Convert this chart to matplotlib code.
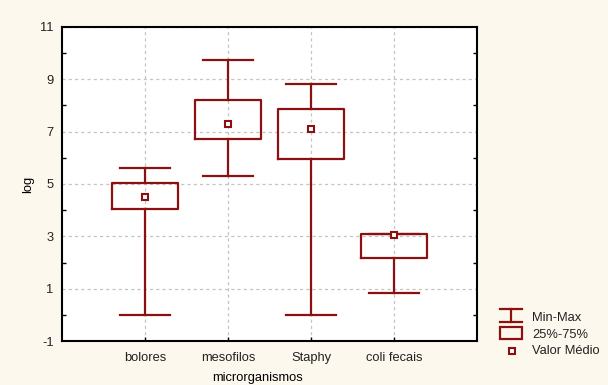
import matplotlib
matplotlib.use("Agg")
import matplotlib.pyplot as plt
from matplotlib.patches import Rectangle

plt.rcParams["font.family"] = ["Liberation Sans", "DejaVu Sans"]
plt.rcParams["font.size"] = 9.3
plt.rcParams["axes.unicode_minus"] = False

# summary values per group (log scale)
categorias = ["bolores", "mesofilos", "Staphy", "coli fecais"]
minimos = [0.0, 5.29, 0.0, 0.85]
q25 = [4.04, 6.72, 5.95, 2.16]
medias = [4.52, 7.30, 7.09, 3.05]
q75 = [5.05, 8.21, 7.85, 3.09]
maximos = [5.63, 9.74, 8.81, 3.08]

cor = "#8b1010"
fundo = "#fdf8ee"

stats = []
for nome, lo, a, m, b, hi in zip(categorias, minimos, q25, medias, q75, maximos):
    stats.append({"label": nome, "whislo": lo, "q1": a, "med": m,
                  "mean": m, "q3": b, "whishi": hi})

fig = plt.figure(figsize=(6.08, 3.85), dpi=100, facecolor=fundo)
ax = fig.add_axes([62 / 608, 44 / 385, 415 / 608, 314 / 385])
ax.set_facecolor("white")

ax.bxp(stats, positions=range(1, 5), widths=0.8, capwidths=0.6,
       showmeans=True, showfliers=False, patch_artist=False,
       boxprops=dict(color=cor, linewidth=1.6),
       whiskerprops=dict(color=cor, linewidth=1.6),
       capprops=dict(color=cor, linewidth=1.6),
       medianprops=dict(linewidth=0),
       meanprops=dict(marker="s", markersize=5, markerfacecolor="white",
                      markeredgecolor=cor, markeredgewidth=1.5),
       zorder=3)

ax.set_xlim(0, 5)
ax.set_ylim(-1, 11)
ax.set_yticks(range(-1, 12, 2))
ax.set_yticks(range(0, 11, 2), minor=True)
ax.set_xticks(range(1, 5))
ax.set_xticklabels(categorias)
ax.tick_params(which="both", direction="in", right=True, length=3, width=1,
               colors="black", labelcolor="#222222")
ax.tick_params(axis="y", which="major", length=0, pad=6)
ax.tick_params(axis="x", pad=8)
ax.grid(True, which="major", color="#c4c4c4", linestyle=(0, (2.5, 2.5)), linewidth=0.9)
for s in ax.spines.values():
    s.set_linewidth(1.5)

ax.set_ylabel("log")
ax.yaxis.set_label_coords(-0.068, 0.5)
ax.set_xlabel("microrganismos")
ax.xaxis.set_label_coords(0.47, -0.1)

# legend drawn as its own small panel, in pixel units
lg = fig.add_axes([490 / 608, 25 / 385, 118 / 608, 70 / 385])
lg.set_xlim(490, 608)
lg.set_ylim(360, 290)
lg.axis("off")
lg.plot([500, 522], [309, 309], color=cor, lw=1.6)
lg.plot([500, 522], [322, 322], color=cor, lw=1.6)
lg.plot([511, 511], [309, 322], color=cor, lw=1.6)
lg.add_patch(Rectangle((500, 327), 22, 12, fill=False, edgecolor=cor, lw=1.6))
lg.plot([512], [351], marker="s", ms=5, mfc="white", mec=cor, mew=1.5)
lg.text(532, 318, "Min-Max", va="center", color="#222222")
lg.text(532, 335, "25%-75%", va="center", color="#222222")
lg.text(532, 351, "Valor Médio", va="center", color="#222222")

fig.savefig("out.png", dpi=100, facecolor=fundo)
